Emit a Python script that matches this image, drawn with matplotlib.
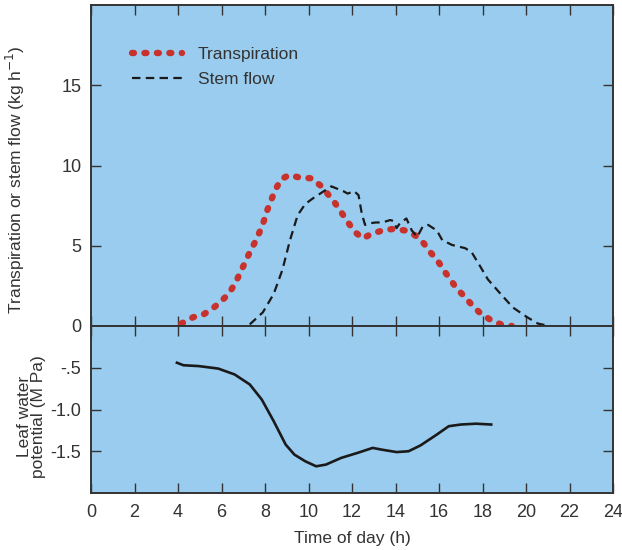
import matplotlib
matplotlib.use("Agg")
import matplotlib.pyplot as plt

# Transpiration (kg h-1) against time of day (h)
trans_h = [4.15, 4.7, 5.15, 5.6, 6.0, 6.35, 6.65, 6.85, 7.1, 7.3, 7.55, 7.75, 7.95, 8.1,
           8.3, 8.5, 8.75, 9.1, 9.6, 10.15, 10.55, 10.9, 11.2, 11.5, 11.8, 12.1, 12.5,
           12.9, 13.4, 13.9, 14.45, 14.9, 15.3, 15.6, 15.95, 16.2, 16.5, 16.8, 17.2,
           17.55, 17.9, 18.35, 18.85, 19.35]
trans_v = [0.15, 0.55, 0.7, 1.1, 1.55, 2.05, 2.7, 3.3, 4.0, 4.6, 5.25, 5.85, 6.55, 7.2,
           7.9, 8.55, 9.15, 9.4, 9.25, 9.2, 8.75, 8.2, 7.7, 7.1, 6.5, 5.9, 5.45,
           5.75, 5.95, 6.05, 5.95, 5.65, 5.15, 4.6, 4.05, 3.5, 2.95, 2.35, 1.8,
           1.25, 0.8, 0.4, 0.1, 0.0]

# Stem flow (kg h-1)
stem_h = [7.3, 7.9, 8.4, 8.8, 9.15, 9.5, 9.85, 10.2, 10.65, 11.05, 11.6, 11.8, 12.1, 12.3,
          12.45, 12.6, 12.8, 13.1, 13.4, 13.75, 13.9, 14.05, 14.2, 14.5, 14.75, 15.0,
          15.25, 15.5, 15.9, 16.15, 16.6, 17.2, 17.5, 17.9, 18.25, 18.8, 19.4, 20.05,
          20.55, 20.9]
stem_v = [0.1, 0.85, 2.0, 3.5, 5.35, 6.9, 7.6, 7.95, 8.35, 8.7, 8.4, 8.25, 8.4, 8.15,
          7.0, 6.3, 6.4, 6.45, 6.45, 6.6, 6.55, 6.1, 6.4, 6.7, 5.95, 5.55,
          6.2, 6.3, 5.95, 5.35, 5.05, 4.85, 4.6, 3.7, 2.9, 2.05, 1.15, 0.55,
          0.15, 0.05]

# Leaf water potential (MPa)
leaf_h = [3.95, 4.25, 4.95, 5.85, 6.6, 7.3, 7.85, 8.4, 8.95, 9.35, 9.85, 10.35, 10.8,
          11.5, 12.25, 12.95, 13.35, 14.05, 14.6, 15.15, 15.9, 16.45, 17.0, 17.7, 18.4]
leaf_v = [-0.44, -0.47, -0.48, -0.51, -0.58, -0.70, -0.88, -1.14, -1.42, -1.54, -1.62,
          -1.68, -1.66, -1.58, -1.52, -1.46, -1.48, -1.51, -1.50, -1.43, -1.30, -1.20,
          -1.18, -1.17, -1.18]

x_ticks = list(range(0, 25, 2))
top_ticks = [0, 5, 10, 15]
bot_ticks = [-0.5, -1.0, -1.5]
bot_labels = ["-.5", "-1.0", "-1.5"]

plt.rcParams['font.family'] = ['Liberation Sans', 'DejaVu Sans']
text_col = "#333333"
bg = "#99CCEE"
red = "#C8322D"

fig = plt.figure(figsize=(6.22, 5.5), dpi=100)
ax1 = fig.add_axes([91/622, 1-326/550, 522/622, 321/550])
ax2 = fig.add_axes([91/622, 1-493/550, 522/622, 167/550])

for ax in (ax1, ax2):
    ax.set_facecolor(bg)
    ax.set_xlim(0, 24)
    ax.set_xticks(x_ticks)
    ax.tick_params(direction='in', length=7, width=1, top=True, right=True,
                   colors=text_col, labelsize=13, labelcolor=text_col)
    ax.tick_params(axis='y', pad=7)
    ax.tick_params(axis='x', pad=8)
    for s in ax.spines.values():
        s.set_color(text_col)
        s.set_linewidth(1.4)

# top panel
ax1.plot(trans_h, trans_v, color=red, lw=4.6, linestyle=(0, (0.3, 1.65)),
         dash_capstyle='round', label="Transpiration")
ax1.plot(stem_h, stem_v, color="#1a1a1a", lw=1.6, linestyle=(0, (3.8, 2.4)),
         label="Stem flow")
ax1.set_ylim(0, 20)
ax1.set_yticks(top_ticks)
ax1.tick_params(labelbottom=False)
ax1.set_ylabel("Transpiration or stem flow (kg h$^{-1}$)", fontsize=12.5,
               color=text_col)
ax1.yaxis.set_label_coords(-0.122, 0.455)
leg = ax1.legend(loc='upper left', bbox_to_anchor=(0.078, 0.87), frameon=False,
                 borderaxespad=0, borderpad=0, handlelength=2.9, handletextpad=0.9,
                 labelspacing=0.57, fontsize=12.5)
for t in leg.get_texts():
    t.set_color(text_col)

# bottom panel
ax2.plot(leaf_h, leaf_v, color="#1a1a1a", lw=1.9)
ax2.set_ylim(-2, 0)
ax2.set_yticks(bot_ticks)
ax2.set_yticklabels(bot_labels)
ax2.set_ylabel("Leaf water\npotential (M Pa)", fontsize=12.5, color=text_col,
               linespacing=0.9)
ax2.yaxis.set_label_coords(-0.086, 0.46)
ax2.set_xlabel("Time of day (h)", fontsize=12.5, color=text_col, labelpad=7)

fig.savefig("out.png", dpi=100)
